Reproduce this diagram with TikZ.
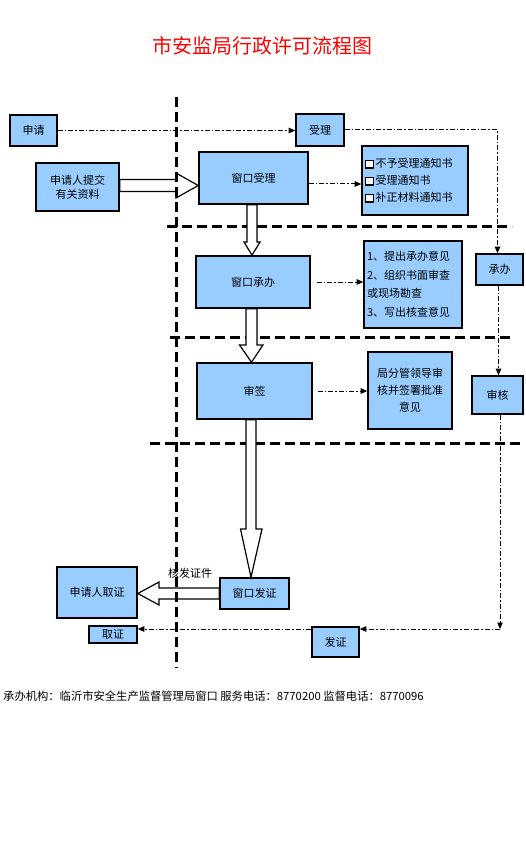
\documentclass[tikz,border=0pt]{standalone}
\usepackage{fontspec}
\setmainfont{Noto Sans CJK SC}
\usetikzlibrary{arrows.meta,calc}
\definecolor{boxblue}{RGB}{153,204,255}
\newcommand\cbx{{\setlength{\fboxrule}{1.3pt}\setlength{\fboxsep}{0pt}\fcolorbox{black}{white}{\rule{0pt}{6.5pt}\rule{6.5pt}{0pt}}}\hspace{1.5pt}}
\begin{document}
\begin{tikzpicture}[x=1pt,y=-1pt,
  box/.style={draw=black,line width=1.6pt,fill=boxblue,inner sep=1pt,font=\fontsize{11}{14}\selectfont},
  dd/.style={line width=1pt,dash pattern=on 5pt off 2pt on 1.5pt off 2pt},
  ar/.style={-{Triangle[length=6.5pt,width=5.5pt]}},
  sep/.style={line width=3pt,dash pattern=on 10pt off 5pt},
  hollow/.style={draw=black,line width=1.2pt,fill=white,line join=miter}]
\useasboundingbox (0,0) rectangle (525,842);

% title
\node[font=\fontsize{20}{24}\selectfont,text=red] (title) at (262,46) {市安监局行政许可流程图};

% horizontal separators
\draw[sep] (167,226) -- (512,226);
\draw[sep] (170,337) -- (512,337);
\draw[sep] (150,443) -- (520,443);

% boxes
\node[box,minimum width=47pt,minimum height=31pt] (sq) at (33.5,130.5) {申请};
\node[box,minimum width=83pt,minimum height=48pt,align=center] (tj) at (77.5,187) {申请人提交\\有关资料};
\node[box,minimum width=109pt,minimum height=52pt] (cksl) at (253.5,178) {窗口受理};
\node[box,minimum width=48pt,minimum height=32pt] (sl) at (320,130) {受理};
\node[box,minimum width=106pt,minimum height=69pt,text width=100pt,inner sep=3pt,align=left,font=\fontsize{11}{17}\selectfont] (tz) at (415,180.5) {\cbx 不予受理通知书\\\cbx 受理通知书\\\cbx 补正材料通知书};

\node[box,minimum width=114pt,minimum height=52pt] (cbw) at (253,282) {窗口承办};
\node[box,minimum width=98pt,minimum height=87pt,text width=92pt,inner sep=3pt,align=left,font=\fontsize{11}{18.5}\selectfont] (yj) at (413,284.5) {1、提出承办意见\\2、组织书面审查\\或现场勘查\\3、写出核查意见};
\node[box,minimum width=47pt,minimum height=31pt] (cb) at (499.5,269.5) {承办};

\node[box,minimum width=115pt,minimum height=56pt] (sign) at (254.5,391) {审签};
\node[box,minimum width=84pt,minimum height=77pt,align=center,font=\fontsize{11}{17}\selectfont] (ld) at (410,390.5) {局分管领导审\\核并签署批准\\意见};
\node[box,minimum width=51pt,minimum height=38pt] (sh) at (497.5,395) {审核};

\node[box,minimum width=69pt,minimum height=31pt] (fzw) at (254.5,593.5) {窗口发证};
\node[box,minimum width=80pt,minimum height=51pt] (qzp) at (97,592.5) {申请人取证};
\node[box,minimum width=48pt,minimum height=17pt] (qz) at (113,634.5) {取证};
\node[box,minimum width=47pt,minimum height=30pt] (fz) at (335.5,642) {发证};

\node[font=\fontsize{11}{13}\selectfont] (hf) at (190,573) {核发证件};

% hollow arrows
\draw[hollow] (tj.east |- 0,179.5) -- (176,179.5) -- (176,173) -- (cksl.west |- 0,185.5) -- (176,198) -- (176,191.5) -- (tj.east |- 0,191.5) -- cycle;
\draw[hollow] (cksl.south -| 247,0) -- (247,242) -- (244,242) -- (cbw.north -| 252,0) -- (260,242) -- (257,242) -- (cksl.south -| 257,0) -- cycle;
\draw[hollow] (cbw.south -| 246,0) -- (246,345) -- (239.5,345) -- (sign.north -| 251.5,0) -- (263,345) -- (257,345) -- (cbw.south -| 257,0) -- cycle;
\draw[hollow] (sign.south -| 246,0) -- (246,529) -- (240.5,529) -- (fzw.north -| 251,0) -- (262,529) -- (256,529) -- (sign.south -| 256,0) -- cycle;
\draw[hollow] (fzw.west |- 0,588) -- (159,588) -- (159,582) -- (qzp.east |- 0,593.5) -- (159,605) -- (159,599) -- (fzw.west |- 0,599) -- cycle;

% dash-dot connectors
\draw[dd,ar] (sq.east) -- (sl.west |- sq.east);
\draw[dd,ar] (sl.east) -| (cb.north -| 497.5,0);
\draw[dd,ar] (cksl.east |- 0,184) -- (tz.west |- 0,184);
\draw[dd,ar] ($(cbw.east |- 0,282)+(6,0)$) -- (yj.west |- 0,282);
\draw[dd,ar] ($(sign.east |- 0,391)+(5,0)$) -- (ld.west |- 0,391);
\draw[dd,ar] (cb.south -| 498.5,0) -- (sh.north -| 498.5,0);
\coordinate (corner) at (500,629);
\draw[dd,ar] (sh.south -| 500,0) -- (corner);
\draw[dd,ar] (corner) -- (fz.east |- corner);
\draw[dd,ar] (fz.west |- corner) -- (qz.east |- corner);

% vertical separator
\draw[sep] (176,97) -- (176,668);

% footer
\node[anchor=west,inner sep=0,font=\fontsize{11.3}{13}\selectfont] (foot) at (3,696) {承办机构：临沂市安全生产监督管理局窗口 服务电话：8770200 监督电话：8770096};
\end{tikzpicture}
\end{document}
